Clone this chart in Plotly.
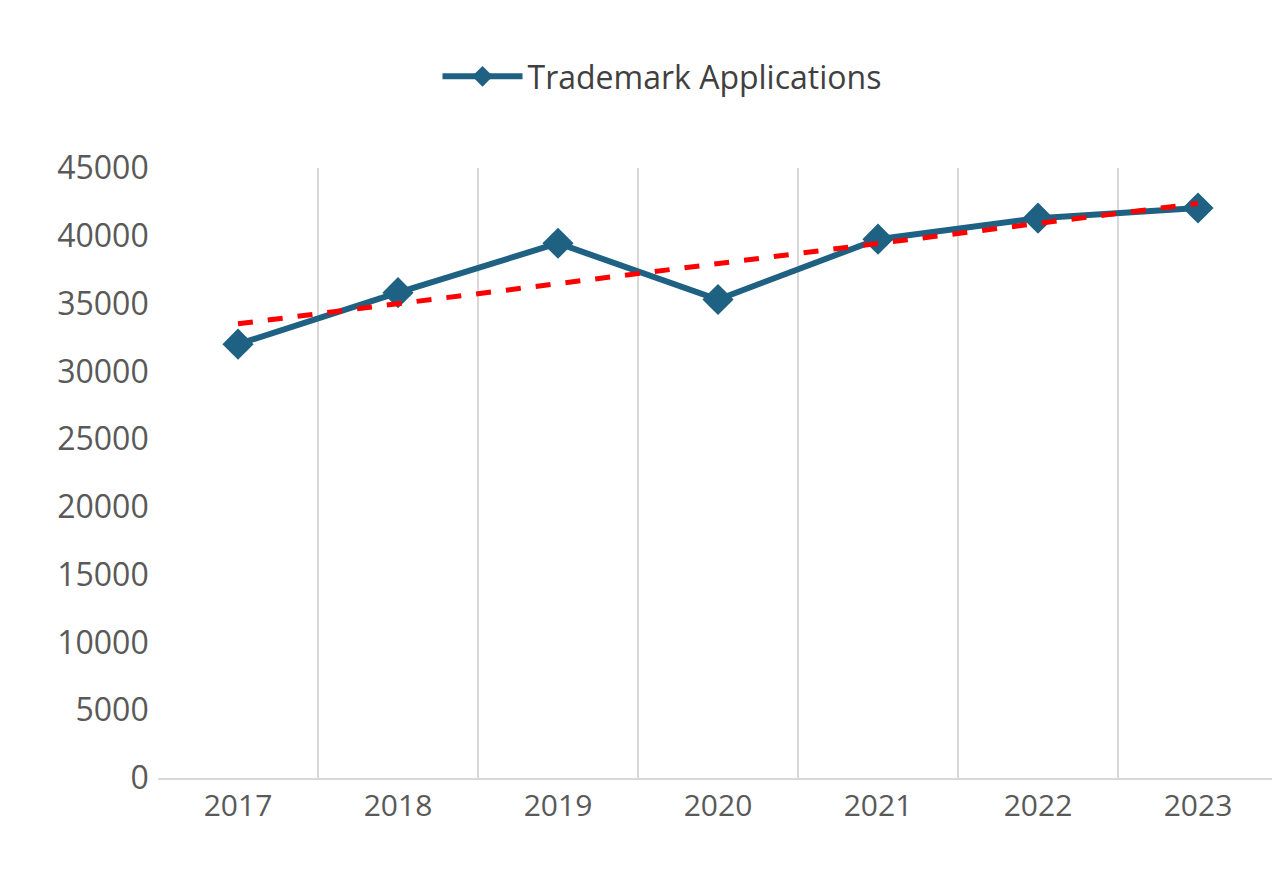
import numpy as np
import plotly.graph_objects as go

years = ["2017", "2018", "2019", "2020", "2021", "2022", "2023"]
applications = [32000, 35800, 39450, 35300, 39750, 41300, 42050]

x = np.arange(len(years))
slope, intercept = np.polyfit(x, applications, 1)
trend = slope * x + intercept

fig = go.Figure()
fig.add_trace(go.Scatter(x=x, y=applications, mode="lines+markers", name="Trademark Applications",
                         line=dict(color="#1f6182", width=6),
                         marker=dict(symbol="diamond", size=24, color="#1f6182")))
fig.add_trace(go.Scatter(x=x, y=trend, mode="lines", showlegend=False,
                         line=dict(color="#ff0000", width=5, dash="dash")))
fig.add_trace(go.Scatter(x=[-0.5, 6.5], y=[None, None], xaxis="x2", showlegend=False, hoverinfo="skip"))

fig.update_layout(
    width=1280, height=870, paper_bgcolor="white", plot_bgcolor="white",
    margin=dict(l=150, r=10, t=160, b=100),
    font=dict(family="Open Sans, sans-serif", color="#595959"),
    legend=dict(orientation="h", x=0.45, xanchor="center", y=1.15, yanchor="middle",
                font=dict(size=32, color="#404040"), itemwidth=80),
    xaxis=dict(range=[-0.5, 6.5], tickvals=list(x), ticktext=years, showgrid=False,
               showline=True, linecolor="#d9d9d9", linewidth=2, ticks="",
               tickfont=dict(size=30, color="#595959"), automargin=False),
    xaxis2=dict(overlaying="x", range=[-0.5, 6.5], tickvals=[i - 0.5 for i in range(8)],
                showticklabels=False, showgrid=True, gridcolor="#d9d9d9", gridwidth=2,
                zeroline=False),
    yaxis=dict(range=[0, 45000], dtick=5000, showgrid=False, zeroline=False, tickformat="d",
               tickfont=dict(size=32, color="#595959"), ticksuffix=" ", automargin=False),
)
fig.write_html("out.html")
